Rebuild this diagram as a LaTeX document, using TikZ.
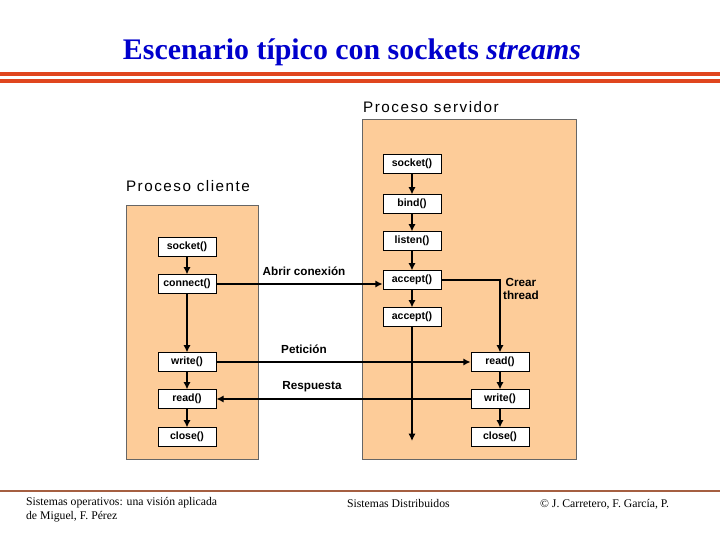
\documentclass[tikz,border=0pt]{standalone}
\usepackage{fontspec}
\setmainfont{Liberation Serif}
\setsansfont{Liberation Sans}
\newfontfamily\spacedsans[LetterSpace=10]{Liberation Sans}
\usetikzlibrary{arrows.meta,positioning}
\definecolor{procfill}{RGB}{253,204,153}
\definecolor{titleblue}{RGB}{0,0,204}
\definecolor{barred}{RGB}{224,70,30}
\definecolor{footbrown}{RGB}{165,95,65}

\begin{document}
\begin{tikzpicture}[x=0.03cm, y=-0.03cm,
  proc/.style={draw=black!60, fill=procfill},
  call/.style={rectangle, draw, fill=white, minimum width=1.75cm, minimum height=0.56cm,
               inner sep=1pt, font=\sffamily\bfseries\fontsize{9}{10}\selectfont},
  lbl/.style={font=\sffamily\bfseries\fontsize{10}{11}\selectfont, align=center},
  proctitle/.style={font=\spacedsans\fontsize{13}{15}\selectfont},
  foot/.style={font=\rmfamily\fontsize{10}{12}\selectfont, anchor=west, align=left},
  arr/.style={-{Latex[length=2.2mm,width=2.2mm]}, line width=1.6pt}
]
\useasboundingbox (0,0) rectangle (720,540);

% title and bars
\node[font=\rmfamily\bfseries\fontsize{25.5}{28}\selectfont, text=titleblue] (titulo) at (352,52)
  {Escenario t\'ipico con sockets \textit{streams}};
\draw[barred, line width=3pt] (0,74) -- (720,74);
\draw[barred, line width=3pt] (0,81) -- (720,81);

% processes
\draw[proc] (362,119) rectangle (576,459);
\draw[proc] (126,205) rectangle (258,459);
\node[proctitle] (tservidor) at (431,107) {Proceso servidor};
\node[proctitle] (tcliente) at (188,186) {Proceso cliente};

% server calls
\node[call] (ssocket) at (412,164) {socket()};
\node[call] (sbind) at (412,204) {bind()};
\node[call] (slisten) at (412,241) {listen()};
\node[call] (saccept) at (412,280) {accept()};
\node[call] (saccept2) at (412,317) {accept()};
\coordinate (sfin) at (412,441);
\node[call] (sread) at (500,362) {read()};
\node[call] (swrite) at (500,399) {write()};
\node[call] (sclose) at (500,437) {close()};

% client calls
\node[call] (csocket) at (187,247) {socket()};
\node[call] (cconnect) at (187,284) {connect()};
\node[call] (cwrite) at (187,362) {write()};
\node[call] (cread) at (187,399) {read()};
\node[call] (cclose) at (187,437) {close()};

% labels
\node[lbl] (labrir) at (304,271) {Abrir conexi\'on};
\node[lbl] (lpeticion) at (304,349) {Petici\'on};
\node[lbl] (lrespuesta) at (312,387) {Respuesta};
\node[lbl] (lcrear) at (521,289) {Crear\\thread};

\draw[arr] (ssocket) -- (sbind);
\draw[arr] (sbind) -- (slisten);
\draw[arr] (slisten) -- (saccept);
\draw[arr] (saccept) -- (saccept2);
\draw[arr] (saccept2) -- (sfin);
\draw[arr] (saccept.east) -| (sread.north);
\draw[arr] (sread) -- (swrite);
\draw[arr] (swrite) -- (sclose);

\draw[arr] (csocket) -- (cconnect);
\draw[arr] (cconnect) -- (cwrite);
\draw[arr] (cwrite) -- (cread);
\draw[arr] (cread) -- (cclose);

\draw[arr] (cconnect.east) -- (cconnect.east -| saccept.west);
\draw[arr] (cwrite) -- (sread);
\draw[arr] (swrite) -- (cread);

% footer
\draw[footbrown, line width=1.2pt] (0,491) -- (720,491);
\node[foot] (fautores) at (22,510) {Sistemas operativos: una visi\'on aplicada\\de Miguel, F. P\'erez};
\node[foot] (fasig) at (343,503) {Sistemas Distribuidos};
\node[foot] (fcopy) at (536,504) {\textcopyright{} J. Carretero, F. Garc\'ia, P.};
\end{tikzpicture}
\end{document}
